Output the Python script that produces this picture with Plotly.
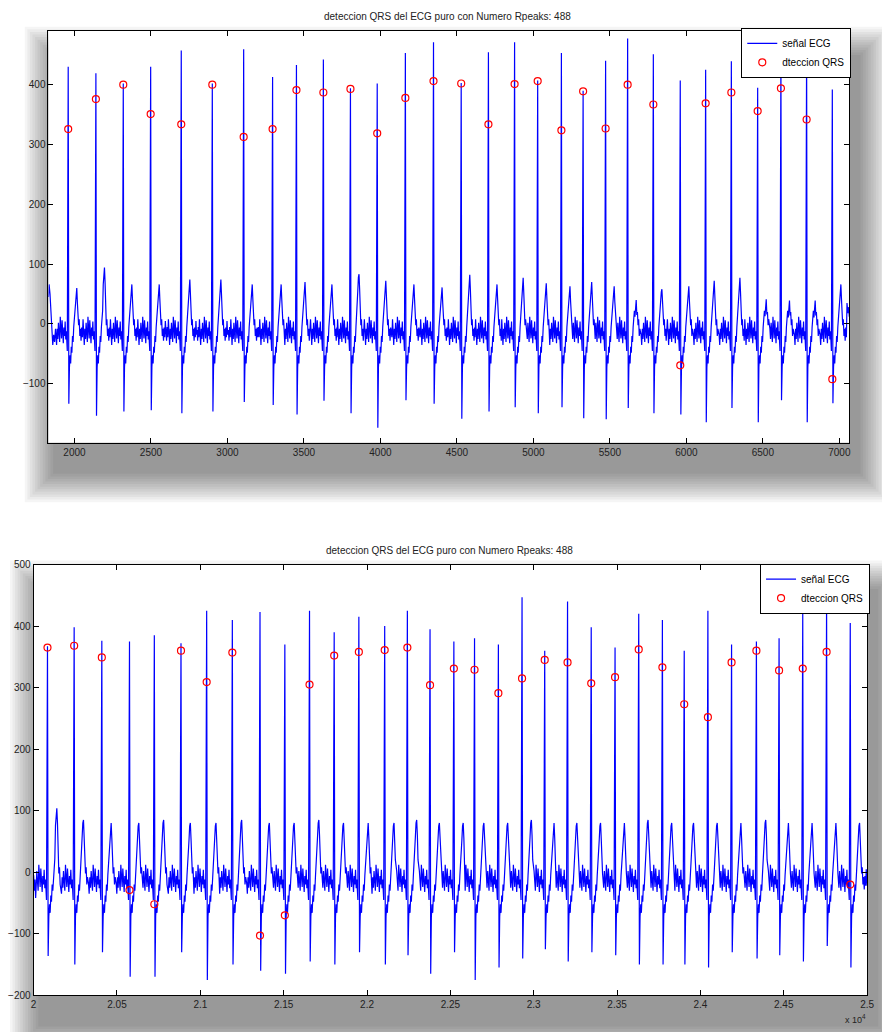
import plotly.graph_objects as go

W, H = 882, 1032
title_text = "deteccion QRS del ECG puro con Numero Rpeaks: 488"
name_ecg = "señal ECG"
name_det = "dteccion QRS"

# ---------------- top panel data (samples) ----------------
top_r_x = [1959, 2140, 2319, 2498, 2698, 2901, 3106, 3295, 3451, 3627, 3804, 3979, 4163, 4347, 4528,
           4706, 4877, 5028, 5183, 5325, 5472, 5616, 5784, 5960, 6126, 6294, 6466, 6618, 6786, 6954]
top_r_y = [429, 418, 401, 429, 456, 401, 458, 412, 432, 441, 393, 401, 452, 470, 402,
           453, 470, 406, 452, 389, 439, 476, 450, 406, 424, 438, 394, 452, 462, 391]
top_s_y = [-133, -153, -146, -144, -149, -146, -130, -135, -151, -128, -149, -173, -127, -133, -158,
           -146, -139, -149, -139, -157, -159, -140, -149, -151, -164, -140, -164, -127, -164, -132]
top_t_y = [60, 94, 66, 66, 74, 74, 66, 66, 70, 66, 83, 72, 66, 61, 82,
           66, 77, 68, 63, 70, 63, 40, 58, 63, 72, 77, 41, 39, 39, 66]
top_det_x = [1959, 2140, 2319, 2498, 2698, 2901, 3106, 3295, 3451, 3627, 3804, 3979, 4163, 4347, 4528,
             4706, 4877, 5028, 5183, 5325, 5472, 5616, 5784, 5960, 6126, 6294, 6466, 6618, 6786, 6954]
top_det_y = [325, 375, 399, 350, 333, 399, 312, 325, 390, 386, 392, 318, 377, 405, 401,
             333, 400, 405, 323, 388, 326, 399, 366, -69, 368, 386, 355, 393, 341, -92]
top_lead_x = [1830, 1834, 1840, 1846, 1852, 1858, 1864, 1870, 1876, 1882]
top_lead_y = [45, 66, 50, 22, -12, -35, -18, -30, -8, -26]
top_tail_x = [7050, 7056, 7061, 7065]
top_tail_y = [35, 18, 28, 12]

# ---------------- bottom panel data (samples) ----------------
bot_r_x = [20083, 20243, 20409, 20575, 20724, 20884, 21038, 21192, 21358, 21507, 21655, 21803, 21951,
           22106, 22242, 22378, 22521, 22645, 22788, 22930, 23066, 23203, 23345, 23488, 23630, 23772,
           23903, 24045, 24187, 24336, 24472, 24614, 24757, 24899]
bot_r_y = [367, 398, 376, 375, 385, 372, 425, 410, 423, 370, 425, 390, 415,
           400, 425, 395, 375, 380, 370, 447, 360, 440, 398, 365, 420, 410,
           360, 425, 370, 375, 380, 425, 440, 405]
bot_s_y = [-136, -150, -130, -170, -170, -130, -175, -150, -160, -165, -145, -150, -130,
           -150, -135, -165, -130, -175, -155, -140, -125, -145, -130, -135, -150, -150,
           -150, -155, -130, -140, -135, -145, -120, -155]
bot_t_y = [104, 85, 80, 80, 85, 80, 80, 85, 80, 80, 85, 80, 80,
           80, 85, 80, 80, 80, 80, 85, 80, 80, 80, 80, 85, 80,
           80, 80, 80, 85, 80, 80, 80, 80]
bot_det_x = [20083, 20243, 20409, 20575, 20724, 20884, 21038, 21192, 21358, 21507, 21655, 21803, 21951,
             22106, 22242, 22378, 22521, 22645, 22788, 22930, 23066, 23203, 23345, 23488, 23630, 23772,
             23903, 24045, 24187, 24336, 24472, 24614, 24757, 24899]
bot_det_y = [365, 368, 349, -29, -52, 360, 309, 357, -103, -70, 305, 352, 358,
             361, 365, 304, 331, 329, 291, 315, 345, 341, 307, 317, 362, 333,
             273, 252, 341, 360, 328, 331, 358, -20]
bot_lead_x = [20000, 20004, 20008, 20012, 20016]
bot_lead_y = [-5, -30, -12, -42, -18]
bot_tail_x = [25000]
bot_tail_y = [-22]

# ---------------- common beat waveform (offsets in samples from R) ----------------
pre_off = [-100, -96, -92, -88, -84, -80, -76, -72, -68, -64, -60, -56,
           -52, -48, -44, -40, -36, -32, -28, -24, -20, -16, -12, -6]
pre_lvl = [-10, -28, -5, -22, 8, -18, -35, -8, -25, 2, -15, -30,
           12, -10, -24, 6, -16, -32, -6, -20, 4, -26, -12, -45]
s_off = 4
post_off = [8, 12, 16, 20, 24, 28, 32, 36, 40, 44,
            64, 68, 72, 76, 80, 84, 88, 92, 96, 100, 104, 108]
post_lvl = [-72, -52, -66, -38, -48, -20, -30, -5, 12, 22,
            20, -2, 8, -20, -8, -28, -6, -22, 5, -18, -30, -8]
t_wave_off = [48, 52, 56, 60]
t_wave_delta = [-28, -5, 0, -25]


def build_trace(lead_x, lead_y, r_x, r_y, s_y, t_y, tail_x, tail_y):
    xs, ys = list(lead_x), list(lead_y)
    n = len(r_x)
    for i in range(n):
        rx = r_x[i]
        lo = (r_x[i - 1] + rx) / 2 if i > 0 else lead_x[-1]
        hi = (r_x[i + 1] + rx) / 2 if i < n - 1 else tail_x[0]
        pts = [(rx + o, v) for o, v in zip(pre_off, pre_lvl)]
        pts += [(rx, r_y[i]), (rx + s_off, s_y[i])]
        post = [(rx + o, v) for o, v in zip(post_off, post_lvl)]
        post += [(rx + o, t_y[i] + d) for o, d in zip(t_wave_off, t_wave_delta)]
        pts += post
        pts = sorted(p for p in pts if lo < p[0] < hi)
        xs += [p[0] for p in pts]
        ys += [p[1] for p in pts]
    xs += tail_x
    ys += tail_y
    return xs, ys


top_x, top_y = build_trace(top_lead_x, top_lead_y, top_r_x, top_r_y, top_s_y, top_t_y, top_tail_x, top_tail_y)
bot_x, bot_y = build_trace(bot_lead_x, bot_lead_y, bot_r_x, bot_r_y, bot_s_y, bot_t_y, bot_tail_x, bot_tail_y)

# ---------------- layout geometry (pixels) ----------------
top_box = (46, 26, 856, 442)
bot_box = (31, 565, 874, 1000)


def dom_x(b):
    return [b[0] / W, b[2] / W]


def dom_y(b):
    return [1 - b[3] / H, 1 - b[1] / H]


FONT = "Liberation Sans, Arial, Helvetica, sans-serif"
BLUE = "#0000ff"
RED = "#ff0000"

fig = go.Figure()
fig.add_trace(go.Scatter(x=top_x, y=top_y, mode="lines", line=dict(color=BLUE, width=1.2),
                         name=name_ecg, xaxis="x", yaxis="y", legend="legend"))
fig.add_trace(go.Scatter(x=top_det_x, y=top_det_y, mode="markers",
                         marker=dict(symbol="circle-open", color=RED, size=7, line=dict(width=1.2)),
                         name=name_det, xaxis="x", yaxis="y", legend="legend"))
fig.add_trace(go.Scatter(x=bot_x, y=bot_y, mode="lines", line=dict(color=BLUE, width=1.2),
                         name=name_ecg, xaxis="x2", yaxis="y2", legend="legend2"))
fig.add_trace(go.Scatter(x=bot_det_x, y=bot_det_y, mode="markers",
                         marker=dict(symbol="circle-open", color=RED, size=7, line=dict(width=1.2)),
                         name=name_det, xaxis="x2", yaxis="y2", legend="legend2"))

axis_common = dict(showline=True, linecolor="black", linewidth=1, mirror="ticks", ticks="inside",
                   ticklen=5, tickcolor="black", showgrid=False, zeroline=False,
                   tickfont=dict(family=FONT, size=10, color="#222"))

top_xticks = [2000, 2500, 3000, 3500, 4000, 4500, 5000, 5500, 6000, 6500, 7000]
top_yticks = [-100, 0, 100, 200, 300, 400]
bot_xticks = [20000, 20500, 21000, 21500, 22000, 22500, 23000, 23500, 24000, 24500, 25000]
bot_xlabels = ["2", "2.05", "2.1", "2.15", "2.2", "2.25", "2.3", "2.35", "2.4", "2.45", "2.5"]
bot_yticks = [-200, -100, 0, 100, 200, 300, 400, 500]

shapes = []


def add_shadow(b):
    x0, y0, x1, y1 = b
    dx, dy = 8, 28
    for i in range(12):
        e = 32 - 2.6 * i
        shapes.append(dict(type="rect", xref="paper", yref="paper", layer="below",
                           x0=(x0 + dx - e) / W, x1=(x1 + dx + e) / W,
                           y0=1 - (y1 + dy + e) / H, y1=1 - (y0 + dy - e) / H,
                           line=dict(width=0), fillcolor="rgba(0,0,0,0.04)"))


add_shadow(top_box)
add_shadow(bot_box)
for b in (top_box, bot_box):
    shapes.append(dict(type="rect", xref="paper", yref="paper", layer="below",
                       x0=b[0] / W, x1=b[2] / W, y0=1 - b[3] / H, y1=1 - b[1] / H,
                       line=dict(width=0), fillcolor="white"))

legend_common = dict(bgcolor="white", bordercolor="black", borderwidth=1,
                     font=dict(family=FONT, size=10, color="black"),
                     xanchor="right", yanchor="top", tracegroupgap=0, itemwidth=30)

fig.update_layout(
    width=W, height=H, margin=dict(l=0, r=0, t=0, b=0),
    paper_bgcolor="white", plot_bgcolor="rgba(0,0,0,0)",
    font=dict(family=FONT, size=10, color="#222"),
    xaxis=dict(domain=dom_x(top_box), range=[1830, 7065], tickvals=top_xticks, anchor="y", **axis_common),
    yaxis=dict(domain=dom_y(top_box), range=[-198, 489], tickvals=top_yticks, anchor="x", **axis_common),
    xaxis2=dict(domain=dom_x(bot_box), range=[20000, 25000], tickvals=bot_xticks, ticktext=bot_xlabels,
                anchor="y2", **axis_common),
    yaxis2=dict(domain=dom_y(bot_box), range=[-200, 500], tickvals=bot_yticks, anchor="x2", **axis_common),
    legend=dict(x=858 / W, y=1 - 23 / H, **legend_common),
    legend2=dict(x=877 / W, y=1 - 564 / H, **legend_common),
    shapes=shapes,
    annotations=[
        dict(text=title_text, xref="paper", yref="paper", x=450 / W, y=1 - 12 / H, showarrow=False,
             xanchor="center", yanchor="middle", font=dict(family=FONT, size=10, color="#222")),
        dict(text=title_text, xref="paper", yref="paper", x=452 / W, y=1 - 551 / H, showarrow=False,
             xanchor="center", yanchor="middle", font=dict(family=FONT, size=10, color="#222")),
        dict(text="x 10<sup>4</sup>", xref="paper", yref="paper", x=862 / W, y=1 - 1024 / H, showarrow=False,
             xanchor="center", yanchor="middle", font=dict(family=FONT, size=9, color="#222")),
    ],
    showlegend=True,
)

fig.write_html("out.html")
